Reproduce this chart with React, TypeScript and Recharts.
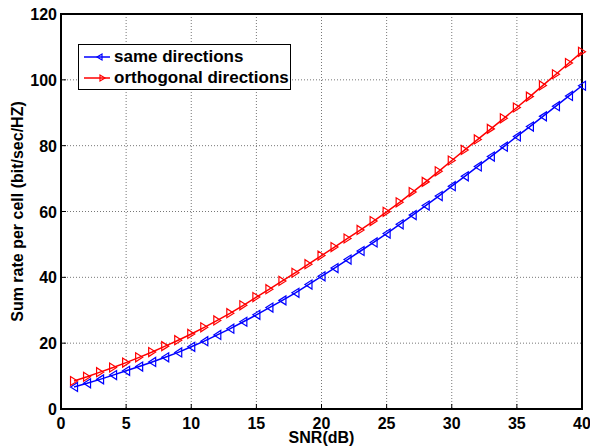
import { LineChart, Line, XAxis, YAxis, CartesianGrid, ReferenceArea } from 'recharts';

// SNR in dB, 1..40
const snr = [
  1, 2, 3, 4, 5, 6, 7, 8, 9, 10, 11, 12, 13, 14, 15, 16, 17, 18, 19, 20,
  21, 22, 23, 24, 25, 26, 27, 28, 29, 30, 31, 32, 33, 34, 35, 36, 37, 38, 39, 40,
];

// sum rate per cell
const sameDirections = [
  6.7, 7.8, 9.0, 10.3, 11.6, 12.9, 14.3, 15.7, 17.2, 18.9,
  20.6, 22.5, 24.4, 26.5, 28.6, 30.8, 33.0, 35.3, 37.8, 40.3,
  42.8, 45.4, 48.0, 50.6, 53.3, 56.1, 58.9, 61.8, 64.7, 67.7,
  70.7, 73.7, 76.7, 79.7, 82.8, 85.8, 88.9, 92.0, 95.1, 98.2,
];

const orthogonalDirections = [
  8.5, 9.8, 11.2, 12.6, 14.1, 15.7, 17.3, 19.1, 20.9, 22.8,
  24.8, 26.9, 29.1, 31.5, 34.0, 36.4, 38.9, 41.4, 44.0, 46.6,
  49.2, 51.8, 54.4, 57.1, 59.9, 62.8, 65.9, 69.0, 72.2, 75.5,
  78.7, 81.9, 85.1, 88.3, 91.6, 94.9, 98.3, 101.7, 105.1, 108.5,
];

const xTicks = [0, 5, 10, 15, 20, 25, 30, 35, 40];
const yTicks = [0, 20, 40, 60, 80, 100, 120];

const seriesNames = ['same directions', 'orthogonal directions'];

const BLUE = '#0000ff';
const RED = '#ff0000';
const FONT = '"Liberation Sans", Arial, sans-serif';

const data = snr.map((s, i) => ({
  snr: s,
  same: sameDirections[i],
  orth: orthogonalDirections[i],
}));

// triangle markers (matlab '<' and '>')
const LeftTri = (props: any) => {
  const { cx, cy, stroke } = props;
  if (cx == null || cy == null) return null;
  return (
    <polygon
      points={`${cx - 3.5},${cy} ${cx + 3.5},${cy - 4.5} ${cx + 3.5},${cy + 4.5}`}
      fill="none"
      stroke={stroke}
      strokeWidth={1.2}
    />
  );
};

const RightTri = (props: any) => {
  const { cx, cy, stroke } = props;
  if (cx == null || cy == null) return null;
  return (
    <polygon
      points={`${cx + 3.5},${cy} ${cx - 3.5},${cy - 4.5} ${cx - 3.5},${cy + 4.5}`}
      fill="none"
      stroke={stroke}
      strokeWidth={1.2}
    />
  );
};

const XTick = (props: any) => {
  const { x, y, payload } = props;
  return (
    <g>
      <line x1={x} x2={x} y1={y - 8} y2={y - 13} stroke="#000" />
      <text x={x} y={y} dy={12} textAnchor="middle" fontFamily={FONT} fontSize={16} fontWeight="bold" fill="#000">
        {payload.value}
      </text>
    </g>
  );
};

const YTick = (props: any) => {
  const { x, y, payload } = props;
  return (
    <g>
      <line x1={x + 4} x2={x + 9} y1={y} y2={y} stroke="#000" />
      <text x={x} y={y} dy={6} textAnchor="end" fontFamily={FONT} fontSize={16} fontWeight="bold" fill="#000">
        {payload.value}
      </text>
    </g>
  );
};

const LegendBox = () => (
  <div
    style={{
      position: 'absolute',
      left: 78,
      top: 44,
      border: '1px solid #000',
      background: '#fff',
      width: 213,
      height: 46,
      boxSizing: 'border-box',
      fontFamily: FONT,
      fontWeight: 'bold',
      fontSize: 17,
      color: '#000',
      paddingTop: 1,
      whiteSpace: 'nowrap',
    }}
  >
    {seriesNames.map((name, i) => {
      const color = i === 0 ? BLUE : RED;
      return (
        <div key={name} style={{ display: 'flex', alignItems: 'center', height: 21 }}>
          <svg width={31} height={12} style={{ marginLeft: 4, flex: 'none' }}>
            <line x1={1} x2={27} y1={6} y2={6} stroke={color} strokeWidth={1.5} />
            {i === 0 ? (
              <polygon points="14,6 19,3 19,9" fill="none" stroke={color} strokeWidth={1.2} />
            ) : (
              <polygon points="22,6 17,3 17,9" fill="none" stroke={color} strokeWidth={1.2} />
            )}
          </svg>
          <span style={{ lineHeight: '21px' }}>{name}</span>
        </div>
      );
    })}
  </div>
);

export default function App() {
  return (
    <div style={{ position: 'relative', width: 590, height: 448, background: '#fff' }}>
      <style>{'body{margin:0}'}</style>
      <LineChart width={590} height={448} data={data} margin={{ top: 14, right: 8, bottom: 0, left: 0 }}>
        <CartesianGrid stroke="#777" strokeDasharray="1 2" />
        <XAxis
          dataKey="snr"
          type="number"
          domain={[0, 40]}
          ticks={xTicks}
          height={39}
          tickSize={0}
          tickMargin={8}
          axisLine={false}
          tickLine={false}
          tick={<XTick />}
          label={{
            value: 'SNR(dB)',
            position: 'insideBottom',
            offset: 5,
            style: { fontFamily: FONT, fontSize: 16, fontWeight: 'bold', fill: '#000' },
          }}
        />
        <YAxis
          type="number"
          domain={[0, 120]}
          ticks={yTicks}
          width={61}
          tickSize={0}
          tickMargin={4}
          axisLine={false}
          tickLine={false}
          tick={<YTick />}
          label={{
            content: (p: any) => {
              const vb = p.viewBox;
              const cx = vb.x + 17;
              const cy = vb.y + vb.height / 2;
              return (
                <text
                  x={cx}
                  y={cy}
                  transform={`rotate(-90, ${cx}, ${cy})`}
                  textAnchor="middle"
                  dominantBaseline="central"
                  fontFamily={FONT}
                  fontSize={16}
                  fontWeight="bold"
                  fill="#000"
                >
                  Sum rate per cell (bit/sec/HZ)
                </text>
              );
            },
          }}
        />
        <ReferenceArea x1={0} x2={40} y1={0} y2={120} fill="none" stroke="#000" strokeWidth={2} ifOverflow="visible" />
        <Line
          dataKey="same"
          name={seriesNames[0]}
          stroke={BLUE}
          strokeWidth={1.5}
          dot={<LeftTri />}
          isAnimationActive={false}
        />
        <Line
          dataKey="orth"
          name={seriesNames[1]}
          stroke={RED}
          strokeWidth={1.5}
          dot={<RightTri />}
          isAnimationActive={false}
        />
      </LineChart>
      <LegendBox />
    </div>
  );
}
